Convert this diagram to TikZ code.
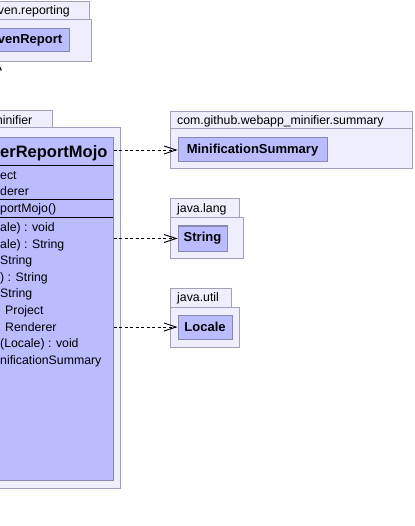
\documentclass[tikz,border=0pt]{standalone}
\usepackage{fontspec}
\setmainfont{Liberation Sans}
\usetikzlibrary{arrows.meta,positioning}
\definecolor{pkgfill}{RGB}{238,238,252}
\definecolor{pkgline}{RGB}{160,160,186}
\definecolor{clsfill}{RGB}{187,187,255}
\definecolor{clsline}{RGB}{136,136,176}

\begin{document}
\begin{tikzpicture}[x=1pt,y=-1pt,
  pkg/.style={draw=pkgline,fill=pkgfill,line width=1pt},
  cls/.style={draw=clsline,fill=clsfill,line width=1pt,inner sep=0pt,font=\fontsize{13}{15}\selectfont\bfseries},
  pkgname/.style={inner sep=0pt,font=\fontsize{12.3}{14}\selectfont},
  member/.style={anchor=base west,inner sep=0pt,font=\fontsize{12.3}{14}\selectfont},
  clsname/.style={anchor=base west,inner sep=0pt,font=\fontsize{16.5}{18}\selectfont\bfseries},
  dep/.style={dash pattern=on 3pt off 2.5pt,line width=0.9pt,-{Straight Barb[length=12pt,width=8pt]}},
  gen/.style={line width=0.9pt,-{Triangle[open,length=8pt,width=8pt]}}]
\useasboundingbox (0,0) rectangle (414,526);
% packages
\draw[pkg] (-40,1.5) rectangle (89.5,19.5);
\draw[pkg] (-40,19.5) rectangle (91,62);
\node[pkgname,anchor=base east] (reppkg) at (70,14.5) {org.apache.maven.reporting};
\draw[pkg] (-40,111) rectangle (52,128);
\draw[pkg] (-40,128) rectangle (120,488);
\node[pkgname,anchor=base east] (minpkg) at (32.5,124.5) {com.github.webapp\_minifier};
\draw[pkg] (170,112) rectangle (412,129);
\draw[pkg] (170,129) rectangle (412,169);
\node[pkgname,anchor=base west] (sumpkg) at (177,125) {com.github.webapp\_minifier.summary};
\draw[pkg] (170,199) rectangle (239,218);
\draw[pkg] (170,218) rectangle (243,258);
\node[pkgname,anchor=base west] (langpkg) at (177,212.5) {java.lang};
\draw[pkg] (170,288) rectangle (231,307);
\draw[pkg] (170,307) rectangle (239,347);
\node[pkgname,anchor=base west] (utilpkg) at (177,301.5) {java.util};
% classes
\node[cls,minimum width=96pt,minimum height=23pt] (report) at (21,40.5) {MavenReport};
\node[cls,minimum width=149pt,minimum height=24pt] (summary) at (252.5,150) {MinificationSummary};
\node[cls,minimum width=49pt,minimum height=25pt] (string) at (202.5,238.5) {String};
\node[cls,minimum width=54pt,minimum height=24pt] (locale) at (205,327) {Locale};
\node[cls,minimum width=143pt,minimum height=342pt] (mojo) at (41.5,309) {};
\node[clsname] (mojoname) at (0,158) {erReportMojo};
\draw[line width=0.9pt] (-30,165) -- (113,165) (-30,199) -- (113,199) (-30,217) -- (113,217);
\node[member] (attr1) at (0,180) {ect};
\node[member] (attr2) at (0,196) {derer};
\node[member] (ctor) at (0,212.5) {portMojo()};
\foreach \x/\t [count=\i] in {0/{ale) : void},0/{ale) : String},0/{String},0/{) : String},0/{String},
  5/{Project},5/{Renderer},0/{(Locale) : void},0/{nificationSummary}}
  \node[member] (op\i) at (\x,{231.5+(\i-1)*16.6}) {\t};
% relations
\coordinate (genfoot) at (-2,138);
\coordinate (genhead) at (-2,62.5);
\draw[gen] (genfoot) -- (genhead);
\path[dep]
(mojo.east |- summary) edge (summary)
(mojo.east |- string) edge (string)
(mojo.east |- locale) edge (locale)
;
\end{tikzpicture}
\end{document}
